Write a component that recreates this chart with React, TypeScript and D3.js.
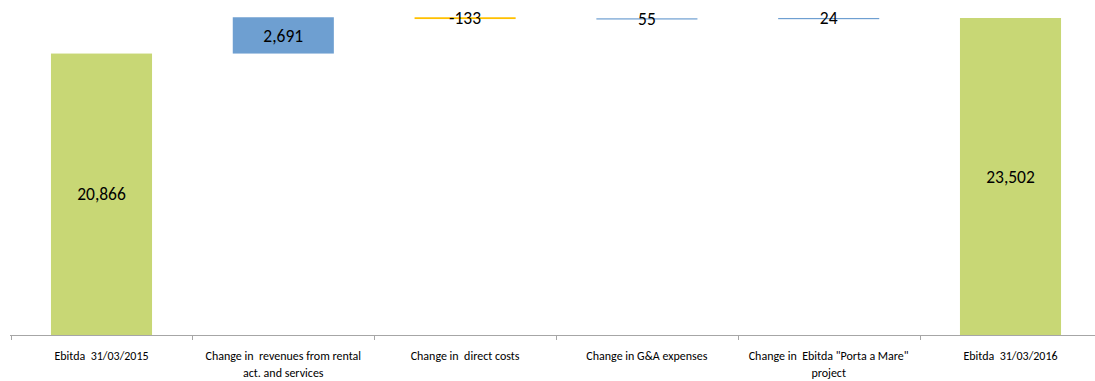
import React from "react";
import * as d3 from "d3";

const categories: string[][] = [
  ["Ebitda  31/03/2015"],
  ["Change in  revenues from rental", "act. and services"],
  ["Change in  direct costs"],
  ["Change in G&A expenses"],
  ["Change in  Ebitda \"Porta a Mare\"", "project"],
  ["Ebitda  31/03/2016"],
];
const values: number[] = [20866, 2691, -133, 55, 24, 23502];
const kinds: string[] = ["total", "delta", "delta", "delta", "delta", "total"];
const valueLabels: string[] = ["20,866", "2,691", "-133", "55", "24", "23,502"];
const barColors: string[] = ["#C8D775", "#6E9FD1", "#FFC000", "#6E9FD1", "#6E9FD1", "#C8D775"];

const W = 1095;
const H = 381;
const FONT = "Carlito, Lato, 'Open Sans', sans-serif";

export default function App() {
  const keys = categories.map((_, i) => String(i));
  const x = d3.scaleBand<string>().domain(keys).range([10.6, 1101.4]).paddingInner(0.444).paddingOuter(0.222);
  const y = d3.scaleLinear().domain([0, 23502]).range([335, 18]);

  let running = 0;
  const bars = values.map((v, i) => {
    let lo: number, hi: number;
    if (kinds[i] === "total") {
      lo = 0;
      hi = v;
      running = v;
    } else {
      const start = running;
      running = running + v;
      lo = Math.min(start, running);
      hi = Math.max(start, running);
    }
    const yTop = y(hi);
    const yBot = y(lo);
    const h = Math.max(1.2, yBot - yTop);
    return { i, x: x(keys[i])!, w: x.bandwidth(), yTop, h, mid: (yTop + yBot) / 2 };
  });

  const step = x.step();
  const tickXs = keys.map((k) => x(k)! - (step - x.bandwidth()) / 2);
  tickXs.push(tickXs[tickXs.length - 1] + step);

  return (
    <svg width={W} height={H} style={{ position: "absolute", left: 0, top: 0, background: "#fff" }}>
      {bars.map((b) => (
        <rect key={b.i} x={b.x} y={b.yTop} width={b.w} height={b.h} fill={barColors[b.i]} />
      ))}
      <line x1={10} x2={W} y1={335.5} y2={335.5} stroke="#A6A6A6" strokeWidth={1} />
      {tickXs.map((tx, i) => (
        <line key={i} x1={Math.round(tx) + 0.5} x2={Math.round(tx) + 0.5} y1={335} y2={340} stroke="#A6A6A6" strokeWidth={1} />
      ))}
      {bars.map((b) => (
        <text
          key={"v" + b.i}
          x={b.x + b.w / 2}
          y={b.mid}
          dy="0.35em"
          textAnchor="middle"
          fontFamily={FONT}
          fontSize={17.5}
          fill="#000"
        >
          {valueLabels[b.i]}
        </text>
      ))}
      {categories.map((lines, i) => (
        <text
          key={"c" + i}
          x={x(keys[i])! + x.bandwidth() / 2}
          textAnchor="middle"
          fontFamily={FONT}
          fontSize={12}
          fill="#000"
          style={{ whiteSpace: "pre" }}
        >
          {lines.map((ln, j) => (
            <tspan key={j} x={x(keys[i])! + x.bandwidth() / 2} y={360 + j * 17}>
              {ln}
            </tspan>
          ))}
        </text>
      ))}
    </svg>
  );
}
